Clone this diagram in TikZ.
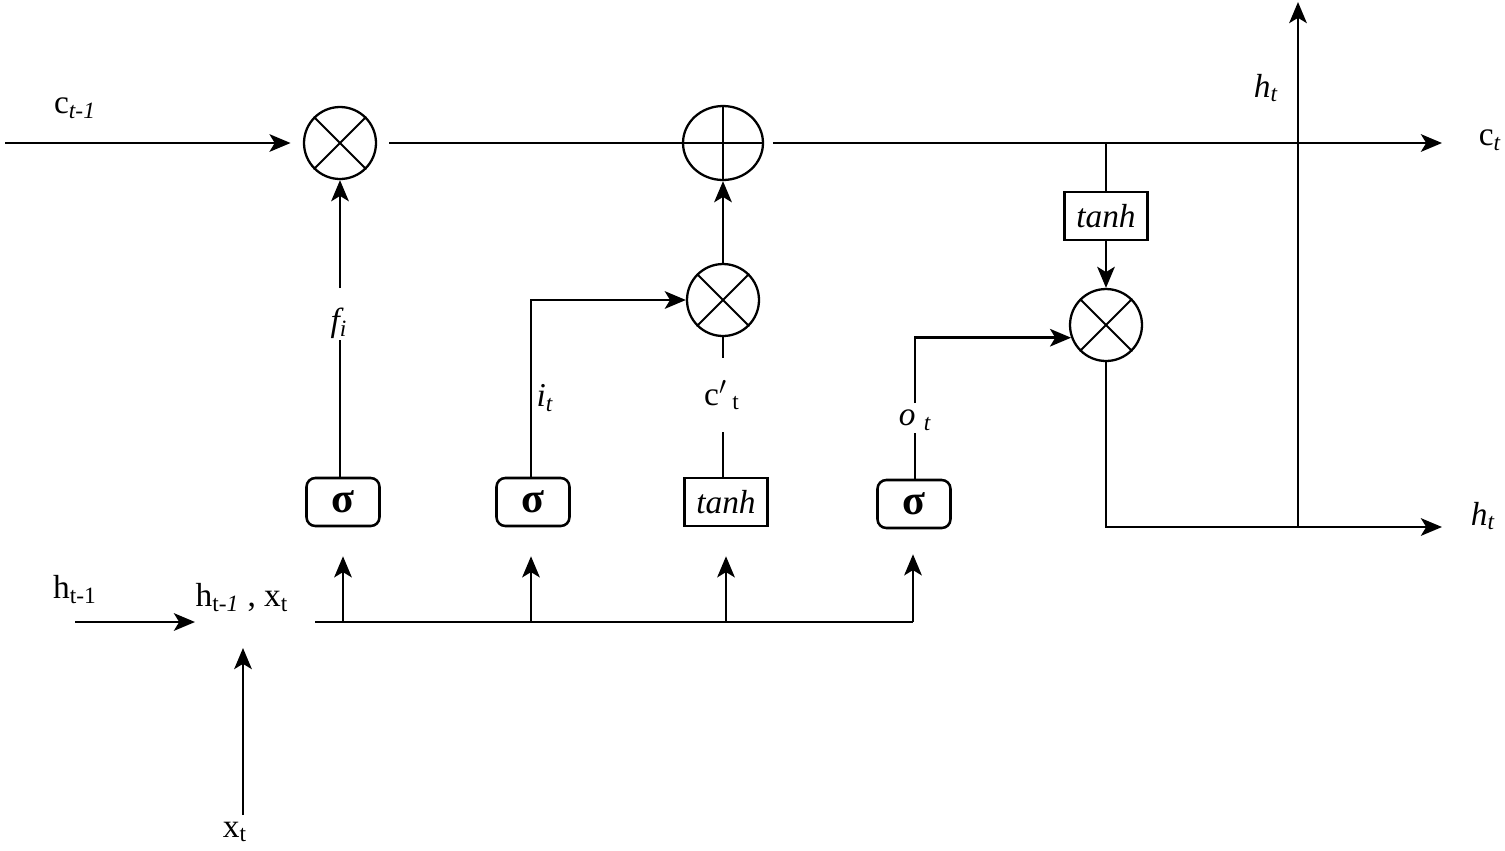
\documentclass[tikz,border=0pt]{standalone}
\usepackage{fontspec}
\setmainfont{Liberation Serif}
\usetikzlibrary{arrows.meta,shapes.geometric}
\begin{document}
\begin{tikzpicture}[x=0.02cm,y=-0.02cm,line width=1.45pt,
  font=\fontsize{19}{22}\selectfont,
  arr/.style={-{Stealth[length=12pt,width=10pt,inset=3pt]}},
  mul/.style={circle,draw,line width=1.3pt,minimum size=1.44cm,inner sep=0pt},
  addop/.style={ellipse,draw,line width=1.3pt,minimum width=1.6cm,minimum height=1.48cm,inner sep=0pt},
  sig/.style={draw,rounded corners=5pt,minimum width=1.46cm,minimum height=0.96cm,inner sep=0pt,font=\fontsize{24}{26}\selectfont\bfseries},
  tbox/.style={draw,minimum width=1.66cm,minimum height=0.96cm,inner sep=0pt,font=\fontsize{19}{22}\selectfont\itshape},
  lab/.style={inner sep=1pt}]
\useasboundingbox (0,0) rectangle (1505,850);
% operator nodes
\node[mul] (m1) at (340,143) {};
\draw[line width=1.1pt] (m1.north west) -- (m1.south east) (m1.north east) -- (m1.south west);
\node[addop] (p) at (723,143) {};
\draw[line width=1.1pt] (p.north) -- (p.south) (p.west) -- (p.east);
\node[mul] (m2) at (723,300) {};
\draw[line width=1.1pt] (m2.north west) -- (m2.south east) (m2.north east) -- (m2.south west);
\node[mul] (m3) at (1106,325) {};
\draw[line width=1.1pt] (m3.north west) -- (m3.south east) (m3.north east) -- (m3.south west);
% gate boxes
\node[sig] (s1) at (343,502) {σ};
\node[sig] (s2) at (533,502) {σ};
\node[tbox] (t1) at (726,502) {tanh};
\node[sig] (s3) at (914,504) {σ};
\node[tbox] (t2) at (1106,216) {tanh};
% labels
\node[lab] (lc) at (75,108) {c\textsubscript{\itshape t-1}};
\node[lab] (lct) at (1490,140) {c\textsubscript{\itshape t}};
\node[lab] (lht1) at (1266,88) {\itshape h\textsubscript{t}};
\node[lab] (lht2) at (1483,516) {\itshape h\textsubscript{t}};
\node[lab] (lf) at (339,323) {\itshape f\textsubscript{i}};
\node[lab] (li) at (545,398) {\itshape i\textsubscript{t}};
\node[lab] (lcp) at (722,395) {c$'$\,\textsubscript{t}};
\node[lab] (lo) at (915,420) {\itshape o \textsubscript{t}};
\node[lab] (lin) at (242,598) {h\textsubscript{t-\textit{1}} ,  x\textsubscript{t}};
\node[lab] (lh) at (75,590) {h\textsubscript{t-1}};
\node[lab] (lx) at (235,832) {x\textsubscript{t}};
% coordinates
\coordinate (cin) at (5,143);
\coordinate (cout) at (1442,143);
\coordinate (j1) at (1106,143);
\coordinate (hout) at (1442,527);
\coordinate (jh) at (1298,527);
\coordinate (htop) at (1298,2);
\coordinate (f1) at (340,288);
\coordinate (f2) at (340,340);
\coordinate (c1) at (723,358);
\coordinate (c2) at (723,432);
\coordinate (o1) at (915,403);
\coordinate (o2) at (915,433);
\coordinate (b0) at (315,622);
\coordinate (b1) at (343,622);
\coordinate (b2) at (531,622);
\coordinate (b3) at (726,622);
\coordinate (b4) at (913,622);
\coordinate (hin) at (75,622);
\coordinate (hine) at (195,622);
\coordinate (xin) at (243,815);
\coordinate (xine) at (243,648);
% cell state line
\draw[arr,shorten >=7pt] (cin) -- (m1);
\draw[shorten <=7pt] (m1) -- (p);
\draw[arr,shorten <=5pt] (p.east) -- (cout);
\draw (j1) -- (t2);
\draw[arr] (t2) -- (m3);
% forget gate
\draw (s1.north -| f2) -- (f2);
\draw[arr] (f1) -- (m1.south);
% input gate
\draw[arr] (s2.north -| b2) |- (m2.west);
% candidate
\draw (m2.south) -- (c1);
\draw (c2) -- (t1.north -| c2);
\draw[arr] (m2.north) -- (p.south);
% output gate
\draw (s3.north -| o2) -- (o2);
\draw[arr] (o1) |- (m3.200);
% hidden output
\draw[arr] (m3.south) |- (hout);
\draw[arr] (jh) -- (htop);
% input bus
\draw (b0) -- (b4);
\draw[arr,shorten >=0.58cm] (b1) -- (s1.south -| b1);
\draw[arr,shorten >=0.58cm] (b2) -- (s2.south -| b2);
\draw[arr,shorten >=0.58cm] (b3) -- (t1.south -| b3);
\draw[arr,shorten >=0.5cm] (b4) -- (s3.south -| b4);
\draw[arr] (hin) -- (hine);
\draw[arr] (xin) -- (xine);
\end{tikzpicture}
\end{document}
